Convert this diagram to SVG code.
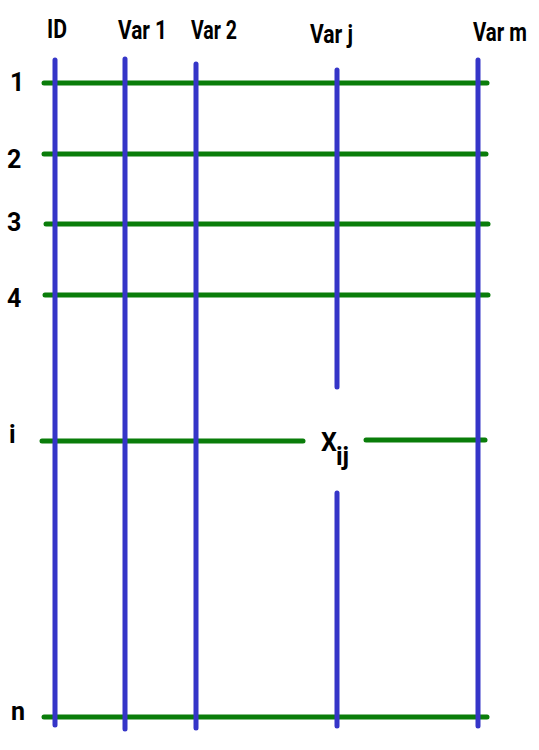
<svg xmlns="http://www.w3.org/2000/svg" width="539" height="750" viewBox="0 0 539 750">
<style>
.g{stroke:#0a7d0a;stroke-width:5;stroke-linecap:round;fill:none}
.b{stroke:#3535c8;stroke-width:5;stroke-linecap:round;fill:none}
text{font-family:Roboto,"Liberation Sans",sans-serif;font-weight:bold;font-size:25px;fill:#000}
</style>
<rect width="539" height="750" fill="#fff"/>
<g id="rows">
<line class="g" x1="44" y1="83" x2="487" y2="83"/>
<line class="g" x1="44" y1="154" x2="486" y2="154"/>
<line class="g" x1="46" y1="224" x2="488" y2="224"/>
<line class="g" x1="45" y1="295" x2="488" y2="295"/>
<line class="g" x1="42" y1="441" x2="303" y2="441"/>
<line class="g" x1="366" y1="440" x2="485" y2="440"/>
<line class="g" x1="44" y1="717" x2="487" y2="717"/>
</g>
<g id="columns">
<line class="b" x1="55" y1="60" x2="55" y2="725"/>
<line class="b" x1="125" y1="59" x2="125" y2="729"/>
<line class="b" x1="196" y1="64" x2="196" y2="728"/>
<line class="b" x1="337" y1="70" x2="337" y2="387"/>
<line class="b" x1="337" y1="493" x2="337" y2="726"/>
<line class="b" x1="478" y1="60" x2="478" y2="726"/>
</g>
<g id="col-labels">
<text x="47" y="38" textLength="20" lengthAdjust="spacingAndGlyphs">ID</text>
<text x="118" y="39" textLength="49" lengthAdjust="spacingAndGlyphs">Var 1</text>
<text x="191" y="39" textLength="46" lengthAdjust="spacingAndGlyphs">Var 2</text>
<text x="310" y="43" textLength="43" lengthAdjust="spacingAndGlyphs">Var j</text>
<text x="473" y="41" textLength="54" lengthAdjust="spacingAndGlyphs">Var m</text>
</g>
<g id="row-labels">
<text x="10" y="91">1</text>
<text x="7" y="168">2</text>
<text x="7" y="231">3</text>
<text x="7" y="307">4</text>
<text x="9" y="443">i</text>
<text x="11" y="720" font-size="27">n</text>
</g>
<g id="cell">
<text x="321" y="451">X</text>
<text x="336" y="465" font-size="21">ij</text>
</g>
</svg>
